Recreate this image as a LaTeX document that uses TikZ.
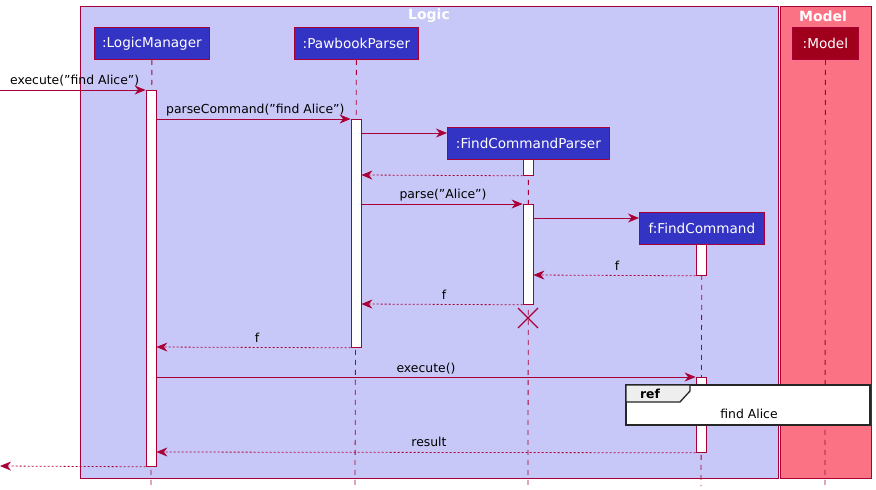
\documentclass[tikz,border=0pt]{standalone}
\usepackage{fontspec}
\setmainfont{DejaVu Sans}
\usetikzlibrary{arrows.meta}
\definecolor{bord}{HTML}{A80036}
\definecolor{logicbg}{HTML}{C8C8F8}
\definecolor{modelbg}{HTML}{FB7285}
\definecolor{partbg}{HTML}{3333C4}
\definecolor{modelpart}{HTML}{A0001C}
\definecolor{tabgray}{HTML}{EEEEEE}
\tikzset{
  grp/.style={draw=bord, line width=0.8pt},
  grptitle/.style={text=white, font=\bfseries\fontsize{14pt}{16pt}\selectfont, inner sep=0pt},
  part/.style={draw=bord, fill=partbg, text=white, line width=0.8pt, minimum height=32pt, inner sep=0pt, anchor=north west, font=\fontsize{13.6pt}{15pt}\selectfont},
  life/.style={draw=bord, line width=0.8pt, dash pattern=on 5pt off 5pt},
  act/.style={draw=bord, fill=white, line width=0.8pt, minimum width=10pt, inner sep=0pt, anchor=north},
  msg/.style={draw=bord, line width=0.8pt, -{Stealth[length=11pt,width=9pt,inset=3.5pt]}},
  ret/.style={msg, dash pattern=on 2pt off 2pt},
  lbl/.style={font=\fontsize{12.4pt}{14pt}\selectfont, text=black, inner sep=0pt},
}
\begin{document}
\begin{tikzpicture}[x=1pt,y=-1pt]
\useasboundingbox (0,0) rectangle (876,490);
% groups
\draw[grp, fill=logicbg] (80,6) rectangle (778,478);
\draw[grp, fill=modelbg] (780,6) rectangle (871,478);
\node[grptitle] (tlogic) at (429,16) {Logic};
\node[grptitle] (tmodel) at (823,16) {Model};
% participants
\node[part, minimum width=115pt] (lm) at (94,27) {:LogicManager};
\node[part, minimum width=124pt] (pp) at (294,27) {:PawbookParser};
\node[part, minimum width=66pt, fill=modelpart] (mo) at (792,27) {:Model};
\node[part, minimum width=162pt] (fcp) at (447,127) {:FindCommandParser};
\node[part, minimum width=125pt] (fc) at (639,212) {f:FindCommand};
% lifeline ends
\coordinate (lmEnd) at (151,486);
\coordinate (ppEnd) at (355,486);
\coordinate (moEnd) at (825,486);
\coordinate (fcpEnd) at (528,486);
\coordinate (fcEnd) at (701,486);
\draw[life] (lm.south) -- (lmEnd);
\draw[life] (pp.south) -- (ppEnd);
\draw[life] (mo.south) -- (moEnd);
\draw[life] (fcp.south) -- (fcpEnd);
\draw[life] (fc.south) -- (fcEnd);
% activations
\node[act, minimum height=376pt] (lmA) at (151,90) {};
\node[act, minimum height=228pt] (ppA) at (356,119) {};
\node[act, minimum height=16pt] (fcpA1) at (528,159) {};
\node[act, minimum height=100pt] (fcpA2) at (528,204) {};
\node[act, minimum height=31pt] (fcA1) at (701,244) {};
\node[act, minimum height=75pt] (fcA2) at (701,377) {};
% free ends
\coordinate (inStart) at (0,90);
\coordinate (outEnd) at (0,466);
% messages
\draw[msg] (inStart) -- (lmA.north west);
\node[lbl, anchor=base west] (l1) at (10,84) {execute(\char"22 find Alice\char"22)};
\draw[msg] (lmA.east |- 0,119) -- (ppA.north west);
\node[lbl, anchor=base west] (l2) at (166,113) {parseCommand(\char"22 find Alice\char"22)};
\draw[msg] (ppA.east |- 0,133) -- (fcp.west |- 0,133);
\draw[ret] (fcpA1.south west) -- (ppA.east |- 0,175);
\draw[msg] (ppA.east |- 0,204) -- (fcpA2.north west);
\node[lbl, anchor=base] (l3) at (443,198) {parse(\char"22 Alice\char"22)};
\draw[msg] (fcpA2.east |- 0,218) -- (fc.west |- 0,218);
\draw[ret] (fcA1.south west) -- (fcpA2.east |- 0,275);
\node[lbl, anchor=base] (l4) at (617,270) {f};
\draw[ret] (fcpA2.south west) -- (ppA.east |- 0,304);
\node[lbl, anchor=base] (l5) at (444,299) {f};
% destroy
\draw[draw=bord, line width=1.2pt] (518,308) -- (538,328) (538,308) -- (518,328);
\draw[ret] (ppA.south west) -- (lmA.east |- 0,347);
\node[lbl, anchor=base] (l6) at (257,342) {f};
\draw[msg] (lmA.east |- 0,377) -- (fcA2.north west);
\node[lbl, anchor=base] (l7) at (426,372) {execute()};
% ref frame
\draw[fill=white, draw=black!85, line width=1.3pt] (626,385) rectangle (870,425);
\draw[fill=tabgray, draw=black!85, line width=1.3pt] (626,385) -- (690,385) -- (690,391) -- (680,402) -- (626,402) -- cycle;
\node[font=\bfseries\fontsize{12.4pt}{14pt}\selectfont, anchor=base, inner sep=0pt] (reft) at (650,398) {ref};
\node[lbl, anchor=base] (refb) at (749,418) {find Alice};
\draw[ret] (fcA2.south west) -- (lmA.east |- 0,452);
\node[lbl, anchor=base] (l8) at (429,446) {result};
\draw[ret] (lmA.south west) -- (outEnd);
\end{tikzpicture}
\end{document}
